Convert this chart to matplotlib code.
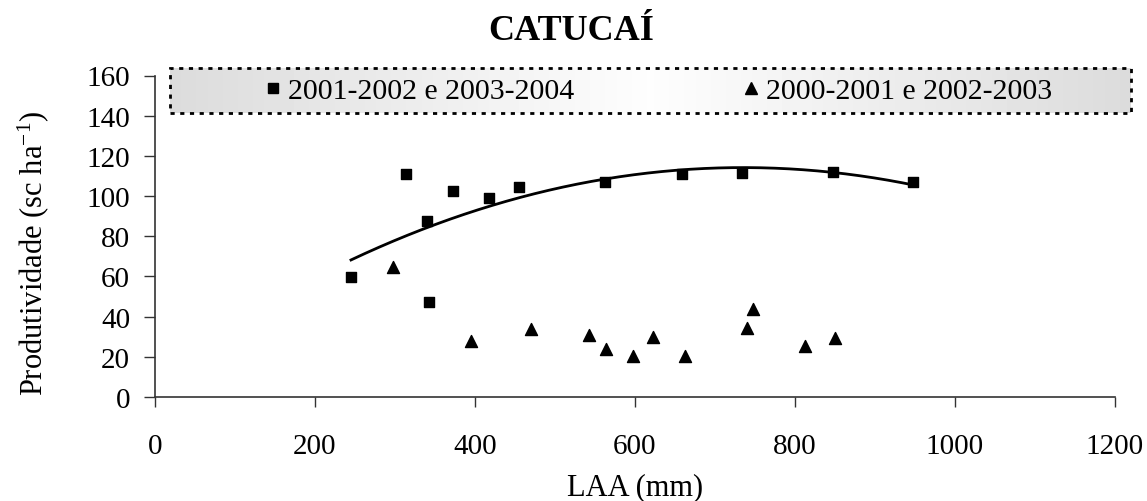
import matplotlib
matplotlib.use("Agg")
import matplotlib.pyplot as plt
import numpy as np
from matplotlib.lines import Line2D
from matplotlib.patches import Rectangle

# series
laa_a = [245, 314, 340, 343, 373, 418, 455, 563, 659, 734, 847, 948]
prod_a = [59.6, 110.9, 87.4, 47.3, 102.3, 98.8, 104.3, 107.2, 110.9, 111.4, 111.8, 107.0]
laa_b = [298, 395, 470, 543, 564, 597, 623, 663, 740, 747, 813, 850]
prod_b = [64.5, 28.0, 33.8, 30.8, 23.9, 20.2, 30.0, 20.2, 34.3, 43.8, 25.5, 29.5]
# quadratic trend line of the first series (c0, c1, c2)
trend_coef = [10.76, 0.28134, -1.9135e-4]

label_a = "2001-2002 e 2003-2004"
label_b = "2000-2001 e 2002-2003"
x_ticks = [0, 200, 400, 600, 800, 1000, 1200]
y_ticks = [0, 20, 40, 60, 80, 100, 120, 140, 160]

plt.rcParams["font.family"] = ["Liberation Serif", "DejaVu Serif"]
plt.rcParams["mathtext.fontset"] = "custom"
plt.rcParams["mathtext.rm"] = "Liberation Serif"
plt.rcParams["mathtext.it"] = "Liberation Serif:italic"

W, H = 1147, 502
fig = plt.figure(figsize=(W / 100, H / 100), dpi=100)
ax = fig.add_axes([155 / W, 1 - 398 / H, 960 / W, 321.5 / H])

ax.scatter(laa_a, prod_a, marker="s", s=62, color="black", zorder=3)
ax.scatter(laa_b, prod_b, marker="^", s=75, color="black", zorder=3)

xs = np.linspace(min(laa_a), max(laa_a), 200)
ax.plot(xs, np.polyval(trend_coef[::-1], xs), color="black", lw=2.0, zorder=2)

ax.set_xlim(0, 1200)
ax.set_ylim(0, 160)
ax.set_xticks(x_ticks)
ax.set_yticks(y_ticks)
for side in ["top", "right"]:
    ax.spines[side].set_visible(False)
for side in ["left", "bottom"]:
    ax.spines[side].set_color("#333333")
    ax.spines[side].set_linewidth(1.2)
ax.tick_params(axis="x", direction="out", length=7, width=1, pad=19,
               labelsize=21, color="#333333")
ax.tick_params(axis="y", direction="out", length=8, width=1, pad=10,
               labelsize=21, color="#333333")

ax.set_xlabel("LAA (mm)", fontsize=22)
ax.xaxis.label.set_verticalalignment("center")
ax.xaxis.set_label_coords(0.5, (398 - 488) / 321.5)
ax.set_ylabel(r"Produtividade (sc ha$^{-1}$)", fontsize=22)
ax.yaxis.label.set_verticalalignment("center")
ax.yaxis.set_label_coords((33 - 155) / 960, (398 - 253) / 321.5)

fig.text(571 / W, 1 - 32 / H, "CATUCAÍ", ha="center", va="center",
         fontsize=26, fontweight="bold")

# legend box with horizontal grey gradient and dotted border
bx0, bx1, by0, by1 = 170 / W, 1131 / W, 1 - 114 / H, 1 - 69 / H
bg = fig.add_axes([bx0, by0, bx1 - bx0, by1 - by0], zorder=0)
grad = 1 - np.abs(np.linspace(-1, 1, 256))
bg.imshow(grad[np.newaxis, :], aspect="auto", cmap="gray",
          vmin=-6.5, vmax=1.05, extent=[0, 1, 0, 1])
bg.set_xlim(0, 1)
bg.set_ylim(0, 1)
bg.axis("off")
bg.add_patch(Rectangle((0, 0), 1, 1, fill=False, ec="black", lw=2,
                       ls=(0, (1.5, 2.0)), clip_on=False, transform=bg.transAxes))

handles = [
    Line2D([], [], marker="s", ls="none", color="black", markersize=7),
    Line2D([], [], marker="^", ls="none", color="black", markersize=8),
]
leg = fig.legend(handles, [label_a, label_b], ncol=2, frameon=False,
                 loc="center", bbox_to_anchor=(658 / W, (by0 + by1) / 2),
                 fontsize=21.5, handlelength=0.6, handletextpad=0.2,
                 columnspacing=5.6, borderpad=0, borderaxespad=0)
leg.set_zorder(5)

fig.savefig("out.png", dpi=100)
